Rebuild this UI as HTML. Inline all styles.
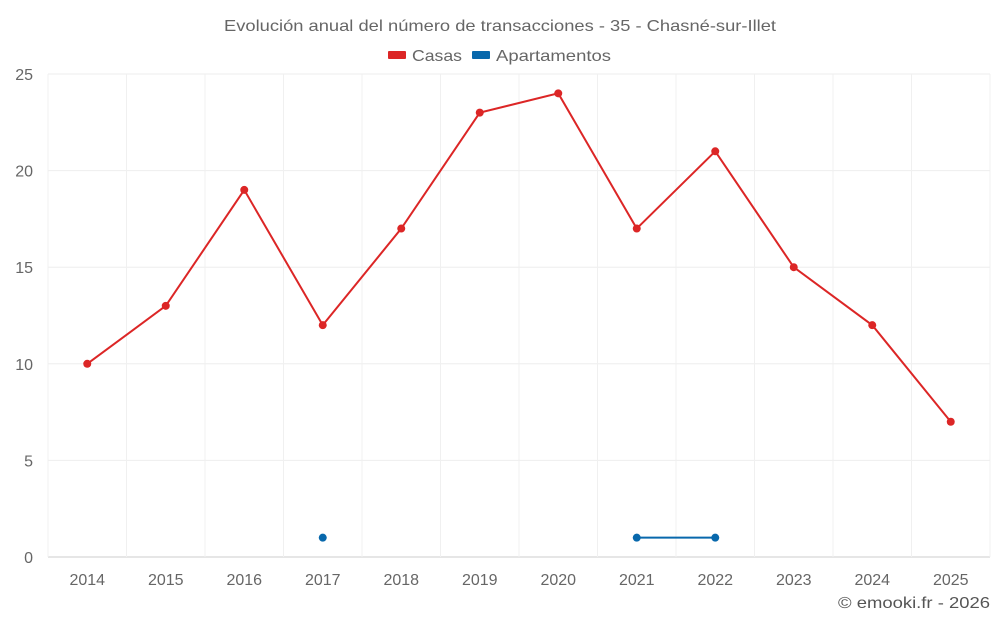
<!DOCTYPE html>
<html><head><meta charset="utf-8"><style>
body{margin:0;background:#fff;font-family:"Liberation Sans",sans-serif}
svg text{font-family:"Liberation Sans",sans-serif}
</style></head><body>
<svg id="c" width="1000" height="625"></svg>
<script>
const years=["2014","2015","2016","2017","2018","2019","2020","2021","2022","2023","2024","2025"];
const casas=[10,13,19,12,17,23,24,17,21,15,12,7];
const apartamentos=[null,null,null,1,null,null,null,1,1,null,null,null];
const yTicks=[0,5,10,15,20,25];
const svg=document.getElementById('c');const NS='http://www.w3.org/2000/svg';
const L=48,R=990,T=74,B=557,yMax=25;
const bw=(R-L)/years.length;
const xs=i=>L+bw*(i+0.5);
const ys=v=>B-(v/yMax)*(B-T);
function mk(t,a,txt){const e=document.createElementNS(NS,t);for(const k in a)e.setAttribute(k,a[k]);if(txt!=null)e.textContent=txt;svg.appendChild(e);return e;}
let e;
e=mk('text',{x:224,y:31,'font-size':16,fill:'#666',textLength:552,lengthAdjust:'spacingAndGlyphs'},'Evolución anual del número de transacciones - 35 - Chasné-sur-Illet');

e=mk('rect',{x:388,y:51,width:18,height:8,fill:'#dc2626',rx:1});

e=mk('text',{x:412,y:61,'font-size':16,fill:'#666',textLength:50,lengthAdjust:'spacingAndGlyphs'},'Casas');

e=mk('rect',{x:472,y:51,width:18,height:8,fill:'#0868ac',rx:1});

e=mk('text',{x:496,y:61,'font-size':16,fill:'#666',textLength:115,lengthAdjust:'spacingAndGlyphs'},'Apartamentos');

yTicks.forEach(v=>{
  e=mk('line',{x1:L,x2:R,y1:ys(v),y2:ys(v),stroke:v===0?'#ccc':'#eee','stroke-width':1});
  
  e=mk('text',{x:33,y:ys(v)+6,'text-anchor':'end','font-size':16,fill:'#666'},String(v));
  
});
for(let i=0;i<=years.length;i++){
  e=mk('line',{x1:L+bw*i,x2:L+bw*i,y1:T,y2:B,stroke:'#f0f0f0','stroke-width':1});
  
}
years.forEach((y,i)=>{
  e=mk('text',{x:xs(i),y:585,'text-anchor':'middle','font-size':16,fill:'#666'},y);
  
});
function series(data,color,name){
  let d='',pen=false;
  data.forEach((v,i)=>{if(v==null){pen=false;return;}d+=(pen?'L':'M')+xs(i)+' '+ys(v)+' ';pen=true;});
  e=mk('path',{d:d,fill:'none',stroke:color,'stroke-width':2});
  
  data.forEach((v,i)=>{if(v==null)return;
    e=mk('circle',{cx:xs(i),cy:ys(v),r:4,fill:color});
    });
}
series(casas,'#dc2626','casas');
series(apartamentos,'#0868ac','apartamentos');
e=mk('text',{x:838,y:608,'font-size':16,fill:'#555',textLength:152,lengthAdjust:'spacingAndGlyphs'},'© emooki.fr - 2026');

</script>
</body></html>
